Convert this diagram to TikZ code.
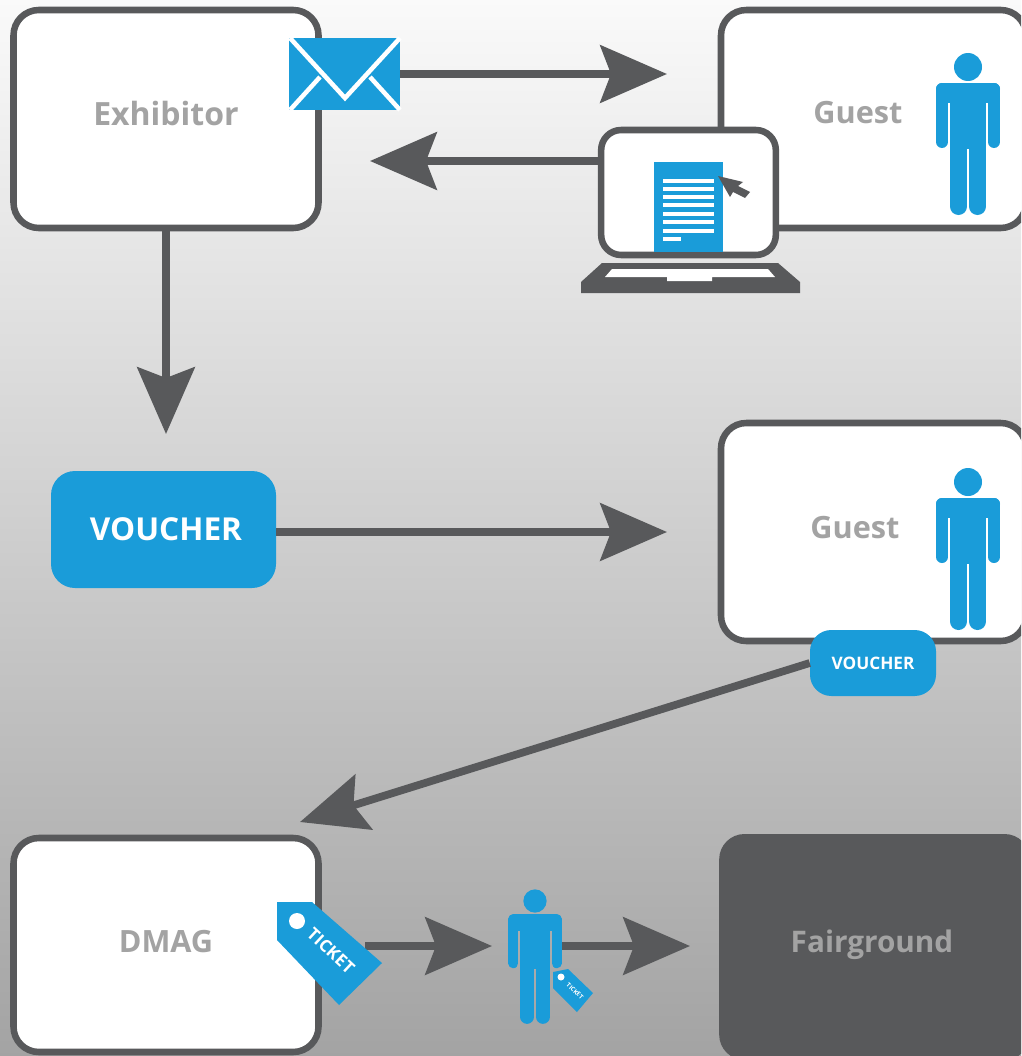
\documentclass[tikz,border=0pt]{standalone}
\usepackage{fontspec}
\setmainfont{Open Sans}
\usetikzlibrary{arrows.meta}
\definecolor{linegrey}{HTML}{58595B}
\definecolor{iconblue}{HTML}{1A9CD9}
\definecolor{textgrey}{HTML}{A3A3A3}
\tikzset{
	pics/person/.style={code={
		\begin{scope}[scale=#1]
		\fill[iconblue] (0,0) circle (14);
		\fill[iconblue] (-20,22) rectangle (20,36);
		\fill[iconblue] (-18,22) rectangle (18,82);
		\draw[iconblue,line cap=round,line width=#1*9pt] (-26,22) -- (26,22);
		\draw[iconblue,line cap=round,line width=#1*9pt] (-26,22) -- (-26,75);
		\draw[iconblue,line cap=round,line width=#1*9pt] (26,22) -- (26,75);
		\draw[iconblue,line cap=round,line width=#1*12.75pt] (-9.5,60) -- (-9.5,139.5);
		\draw[iconblue,line cap=round,line width=#1*12.75pt] (9.5,60) -- (9.5,139.5);
		\end{scope}
	}}
}
\begin{document}
\begin{tikzpicture}[x=0.75pt,y=-0.75pt,
		roombox/.style={draw=linegrey,fill=white,line width=4.9pt,rounded corners=19pt,minimum width=228.75pt,minimum height=163.5pt},
		roomtext/.style={text=textgrey,font=\fontsize{23}{27}\selectfont\bfseries},
		voucherbox/.style={fill=iconblue,text=white,rounded corners=18pt,font=\fontsize{23.7}{27}\selectfont\bfseries},
		bigarrow/.style={draw=linegrey,line width=5.8pt,-{Stealth[length=50pt,width=43pt,inset=8pt]}}]
	\useasboundingbox (0,0) rectangle (1021,1056);
	\clip (0,0) rectangle (1021,1056);
	\shade[top color=white!98!black,bottom color=white!64!black] (0,0) rectangle (1021,1056);
	%% define boxes
	\node (exh) at (166,119) [roombox] {};
	\node at (166,113) (exhtext) [roomtext,font=\fontsize{24}{27}\selectfont\bfseries] {Exhibitor};
	\node (guesta) at (873.5,119) [roombox] {};
	\node at (858,113) (guestatext) [roomtext] {Guest};
	\node (guestb) at (873.5,532) [roombox] {};
	\node at (855,528) (guestbtext) [roomtext] {Guest};
	\node (dmag) at (166,945) [roombox,minimum height=160.5pt] {};
	\node at (166,942) (dmagtext) [roomtext] {DMAG};
	\node (fair) at (874.5,947) [roombox,draw=none,fill=linegrey,minimum width=233pt,minimum height=169.5pt,inner sep=0pt] {};
	\node at (872,945) (fairtext) [roomtext,font=\fontsize{22.3}{26}\selectfont\bfseries] {Fairground};
	\node (vouch) at (163.5,529.5) [voucherbox,minimum width=168.75pt,minimum height=87.75pt] {\hspace*{3.75pt}VOUCHER};
	%% define free ends
	\coordinate (guestin) at (667,74);
	\coordinate (exhin) at (370,161);
	\coordinate (vouchin) at (166,434);
	\coordinate (guestbin) at (667,532);
	\coordinate (dmagin) at (300,822);
	\coordinate (ticketout) at (365,946);
	\coordinate (visitorin) at (492,946);
	\coordinate (visitorout) at (562,946);
	\coordinate (fairin) at (690,946);
	%% define arrows
	\node (env) at (344.5,74) [fill=iconblue,minimum width=83pt,minimum height=54pt,inner sep=0pt] {};
	\draw[bigarrow] (env.east) -- (guestin);
	\draw[bigarrow] (exh.south) -- (vouchin);
	\draw[bigarrow] (vouch.east |- guestbin) -- (guestbin);
	\draw[bigarrow] (ticketout) -- (visitorin);
	\draw[bigarrow] (visitorout) -- (fairin);
	%% envelope
	\draw[white,line width=3.4pt] (290,38) -- (345,98) -- (400,38);
	\draw[white,line width=3.4pt] (290,110) -- (320,77);
	\draw[white,line width=3.4pt] (400,110) -- (370,77);
	%% laptop
	\node (screen) at (688.5,192.5) [roombox,minimum width=131pt,minimum height=93.75pt,rounded corners=15pt] {};
	\draw[bigarrow] (screen.west |- exhin) -- (exhin);
	\fill[iconblue] (653.5,162) rectangle (723,252);
	\foreach \y in {181,189,197,205,214,222,231}
		\draw[white,line width=3.4pt] (663,\y) -- (714,\y);
	\draw[white,line width=3.4pt] (663,239) -- (681,239);
	\fill[linegrey] (718,176) -- (743,182) -- (738,186) -- (750,192) -- (745,198) -- (733,192) -- (730,197) -- cycle;
	\fill[linegrey] (602,263) -- (778,263) -- (800,282) -- (800,293) -- (581,293) -- (581,282) -- cycle;
	\fill[white] (612,269) -- (768,269) -- (775,277) -- (712,277) -- (712,281) -- (667,281) -- (667,277) -- (605,277) -- cycle;
	%% guests
	\pic (persona) at (968,67) {person=1};
	\pic (personb) at (968,482) {person=1};
	\pic (visitor) at (535,901) {person=0.83};
	%% voucher on guest
	\node (vouchs) at (873,663) [voucherbox,minimum width=94.5pt,minimum height=49.5pt,rounded corners=16pt,font=\fontsize{12.9}{15}\selectfont\bfseries] {VOUCHER};
	\draw[bigarrow] (vouchs.west) -- (dmagin);
	%% tickets
	\fill[iconblue] (277,902) -- (312,902) -- (382,963) -- (339,1005) -- (277,940) -- cycle;
	\fill[white] (297,921) circle (8);
	\node (tickettext) at (331,951) [rotate=-43,text=white,font=\fontsize{12.8}{14}\selectfont\bfseries] {TICKET};
	\fill[iconblue] (553,972) -- (568,969) -- (593,993) -- (577,1012) -- (553,988) -- cycle;
	\fill[white] (561,977) circle (3.5);
	\node (ticketsmall) at (575,991) [rotate=-43,text=white,inner sep=0pt,font=\fontsize{4.6}{5}\selectfont\bfseries] {TICKET};
\end{tikzpicture}
\end{document}
